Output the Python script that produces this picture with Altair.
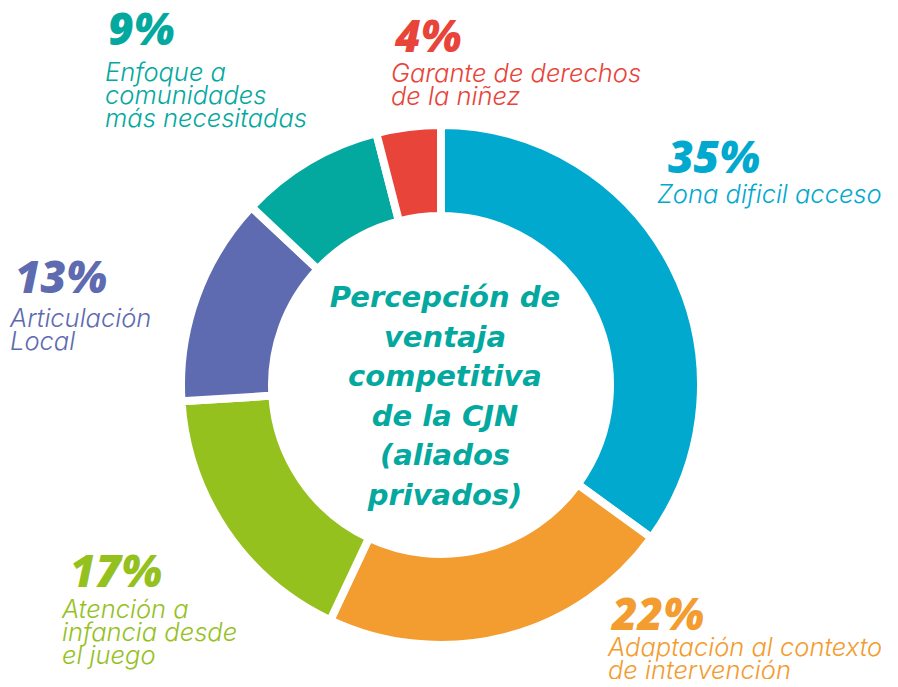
import altair as alt
import pandas as pd

# ---- data ----
categories = [
    "Zona dificil acceso",
    "Adaptación al contexto\nde intervención",
    "Atención a\ninfancia desde\nel juego",
    "Articulación\nLocal",
    "Enfoque a\ncomunidades\nmás necesitadas",
    "Garante de derechos\nde la niñez",
]
values = [35, 22, 17, 13, 9, 4]
pct_labels = ["35%", "22%", "17%", "13%", "9%", "4%"]
colors = ["#02A9CF", "#F39C2F", "#95C11F", "#5E6BB0", "#03A89F", "#E8443A"]
center_title = "Percepción de\nventaja\ncompetitiva\nde la CJN\n(aliados\nprivados)"

# ---- layout (plot-area pixel positions of the annotations) ----
pct_x = [660, 604, 62, 7, 100, 387]
pct_y = [165, 622, 579, 285, 37, 44]
desc_x = [649, 600, 54, 2, 97, 383]
desc_y = [195, 648, 610, 319, 73, 74]

df = pd.DataFrame({
    "label": categories,
    "value": values,
    "order": list(range(len(values))),
    "pct": pct_labels,
    "color": colors,
    "px": pct_x, "py": pct_y, "dx": desc_x, "dy": desc_y,
})

base = alt.Chart(df)

arcs = base.mark_arc(outerRadius=260, innerRadius=169, stroke="white", strokeWidth=8).encode(
    theta=alt.Theta("value:Q", stack=True),
    order=alt.Order("order:Q"),
    color=alt.Color("color:N", scale=None),
    x=alt.value(433),
    y=alt.value(377),
)

pct = base.mark_text(
    align="left", baseline="alphabetic", font="Open Sans", fontSize=44,
    fontWeight=800, fontStyle="italic"
).encode(
    x=alt.X("px:Q", scale=None), y=alt.Y("py:Q", scale=None),
    text="pct:N", color=alt.Color("color:N", scale=None),
)

desc = base.mark_text(
    align="left", baseline="alphabetic", font="Inter", fontSize=25.5,
    fontWeight=300, fontStyle="italic", lineBreak="\n", lineHeight=23
).encode(
    x=alt.X("dx:Q", scale=None), y=alt.Y("dy:Q", scale=None),
    text="label:N", color=alt.Color("color:N", scale=None),
)

title_df = pd.DataFrame({"t": [center_title]})
center = alt.Chart(title_df).mark_text(
    align="center", baseline="alphabetic", font="DejaVu Sans", fontSize=29,
    fontWeight="bold", fontStyle="italic", lineBreak="\n", lineHeight=39.5,
    color="#03A89F"
).encode(
    text="t:N", x=alt.value(437), y=alt.value(299)
)

chart = alt.layer(arcs, pct, desc, center).properties(
    width=882, height=671, autosize="none", padding=0
).configure_view(stroke=None)

chart.save("out.html", embed_options={"renderer": "svg", "actions": False})
